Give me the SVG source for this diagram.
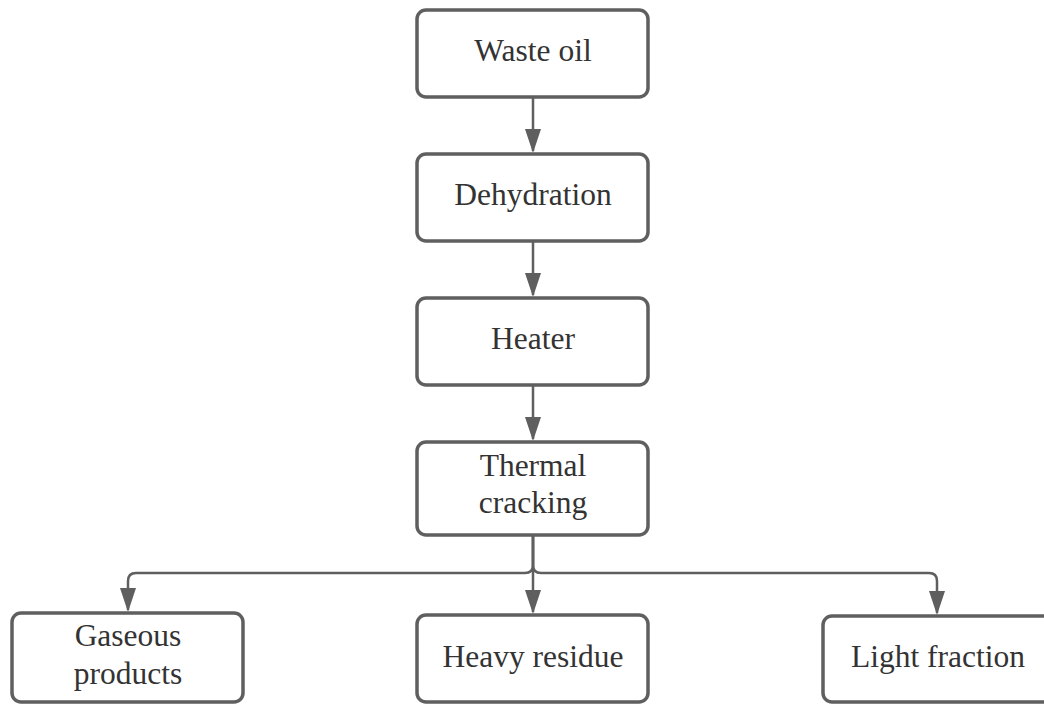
<svg xmlns="http://www.w3.org/2000/svg" width="1044" height="704" viewBox="0 0 1044 704">
<style>
.box{fill:#fff;stroke:#5f5f5f;stroke-width:3.5}
.lbl{font-family:"Liberation Serif",serif;font-size:31.5px;fill:#333;text-anchor:middle}
.con{fill:none;stroke:#5f5f5f;stroke-width:2.5}
</style>
<defs>
<marker id="ah" markerUnits="userSpaceOnUse" markerWidth="24" markerHeight="16" refX="22" refY="8" viewBox="0 0 24 16" orient="auto">
<path d="M0,0 L24,8 L0,16 Z" fill="#5f5f5f"/>
</marker>
</defs>
<rect width="1044" height="704" fill="#fff"/>
<g id="connectors">
<path class="con" d="M533,97 V151" marker-end="url(#ah)"/>
<path class="con" d="M533,241 V295" marker-end="url(#ah)"/>
<path class="con" d="M533,385 V439" marker-end="url(#ah)"/>
<path class="con" d="M533,535 V612" marker-end="url(#ah)"/>
<path class="con" d="M533,535 V565 Q533,573 525,573 H136 Q128,573 128,581 V610" marker-end="url(#ah)"/>
<path class="con" d="M533,535 V565 Q533,573 541,573 H929 Q937,573 937,581 V613" marker-end="url(#ah)"/>
</g>
<g id="waste-oil"><rect class="box" x="417" y="10" width="231" height="87" rx="9"/><text class="lbl" x="533" y="61">Waste oil</text></g>
<g id="dehydration"><rect class="box" x="417" y="154" width="231" height="87" rx="9"/><text class="lbl" x="533" y="205">Dehydration</text></g>
<g id="heater"><rect class="box" x="417" y="298" width="231" height="87" rx="9"/><text class="lbl" x="533" y="349">Heater</text></g>
<g id="thermal-cracking"><rect class="box" x="417" y="442" width="231" height="93" rx="9"/><text class="lbl" x="533" y="476">Thermal</text><text class="lbl" x="533" y="513">cracking</text></g>
<g id="gaseous-products"><rect class="box" x="12" y="613" width="231" height="89" rx="9"/><text class="lbl" x="128" y="646">Gaseous</text><text class="lbl" x="128" y="684">products</text></g>
<g id="heavy-residue"><rect class="box" x="417" y="615" width="231" height="87" rx="9"/><text class="lbl" x="533" y="667">Heavy residue</text></g>
<g id="light-fraction"><rect class="box" x="823" y="616" width="231" height="86" rx="9"/><text class="lbl" x="938" y="667">Light fraction</text></g>
</svg>
